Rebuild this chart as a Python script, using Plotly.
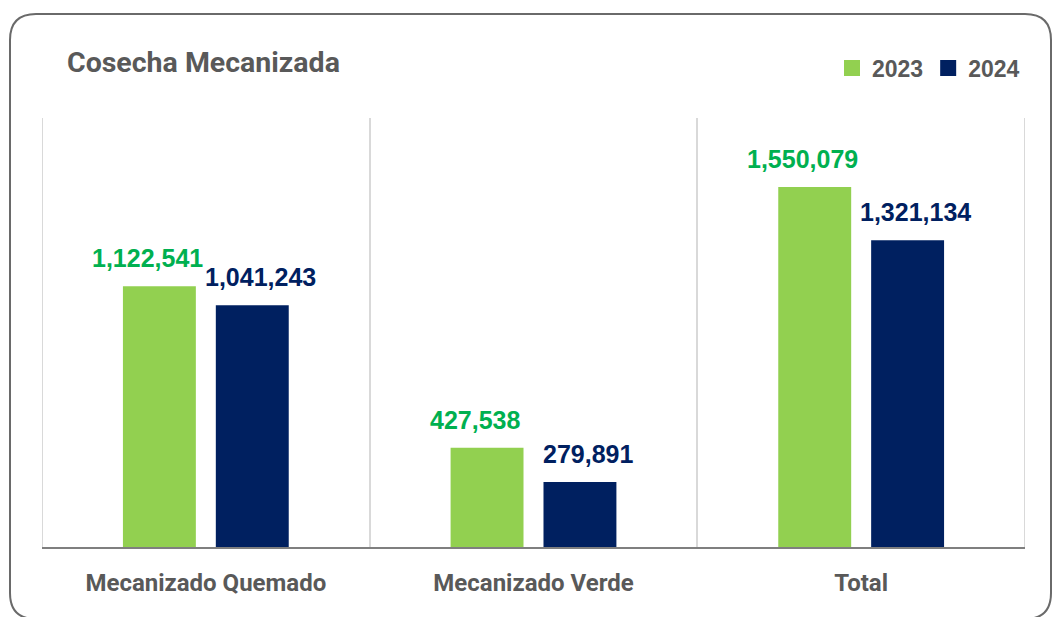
import plotly.graph_objects as go

categories = ["Mecanizado Quemado", "Mecanizado Verde", "Total"]
values_2023 = [1122541, 427538, 1550079]
values_2024 = [1041243, 279891, 1321134]
series_names = ["2023", "2024"]

W, H = 1053, 617
L, R, T, B = 42, 28, 118, 70
PW, PH = W - L - R, H - T - B

bar_colors = ["#92D050", "#002060"]
label_colors = ["#00B050", "#002060"]
gray = "#595959"

fig = go.Figure()
for name, vals, col in zip(series_names, [values_2023, values_2024], bar_colors):
    fig.add_trace(go.Bar(x=categories, y=vals, name=name, marker=dict(color=col, line=dict(width=0)),
                         hoverinfo="skip", showlegend=False))
    # legend-only entry with a larger square swatch
    fig.add_trace(go.Scatter(x=[None], y=[None], mode="markers", name=name,
                             marker=dict(symbol="square", size=16, color=col), hoverinfo="skip"))

# data labels
cat_w = PW / len(categories)
slot = cat_w * (1 - 0.433) / 2
offsets = [-slot / 2 - 12, slot / 2 + 8]
for vals, col, off in zip([values_2023, values_2024], label_colors, offsets):
    for c, v in zip(categories, vals):
        fig.add_annotation(x=c, y=v, text=f"{v:,}", showarrow=False, xshift=off, yshift=12,
                           yanchor="bottom", xanchor="center",
                           font=dict(family="Liberation Sans, Arial", size=25, color=col, weight="bold"))

# outer category boundary lines (plot edges)
for xb in [-0.5, len(categories) - 0.5]:
    fig.add_shape(type="line", x0=xb, x1=xb, xref="x", y0=0, y1=1, yref="paper",
                  line=dict(color="#d9d9d9", width=2), layer="below")

# rounded border
def px(x):
    return (x - L) / PW

def py(y):
    return (T + PH - y) / PH

x0, y0, x1, y1, r = 10, 14, 1051, 619, 26
path = (f"M {px(x0 + r)},{py(y0)} L {px(x1 - r)},{py(y0)} Q {px(x1)},{py(y0)} {px(x1)},{py(y0 + r)} "
        f"L {px(x1)},{py(y1 - r)} Q {px(x1)},{py(y1)} {px(x1 - r)},{py(y1)} "
        f"L {px(x0 + r)},{py(y1)} Q {px(x0)},{py(y1)} {px(x0)},{py(y1 - r)} "
        f"L {px(x0)},{py(y0 + r)} Q {px(x0)},{py(y0)} {px(x0 + r)},{py(y0)} Z")
fig.add_shape(type="path", path=path, xref="paper", yref="paper",
              line=dict(color="#6a6a6a", width=2), fillcolor="rgba(0,0,0,0)", layer="above")

fig.update_layout(
    width=W, height=H,
    margin=dict(l=L, r=R, t=T, b=B),
    paper_bgcolor="white", plot_bgcolor="white",
    barmode="group", bargap=0.433, bargroupgap=0.215,
    title=dict(text="Cosecha Mecanizada", x=67 / W, xanchor="left", xref="container",
               y=1 - 62 / H, yanchor="middle", yref="container",
               font=dict(family="Roboto", size=28.5, color=gray, weight="bold")),
    legend=dict(orientation="h", x=1.0, xanchor="right", y=py(68), yanchor="middle",
                font=dict(family="Liberation Sans, Arial", size=23, color=gray, weight="bold"),
                itemwidth=30, traceorder="normal", bgcolor="rgba(0,0,0,0)"),
    xaxis=dict(type="category", range=[-0.5, 2.5], showgrid=True, gridcolor="#d9d9d9", gridwidth=2,
               tickson="boundaries", ticks="", showline=True, linecolor="#7f7f7f", linewidth=2,
               tickfont=dict(family="Roboto", size=24, color=gray, weight="bold"),
               ticklabelstandoff=13, fixedrange=True, layer="above traces"),
    yaxis=dict(range=[0, 1847000], visible=False, showgrid=False, zeroline=False, fixedrange=True),
    showlegend=True,
)

fig.write_html("out.html", config={"displayModeBar": False},
               post_script="document.body.style.margin='0';document.body.style.overflow='hidden';")
